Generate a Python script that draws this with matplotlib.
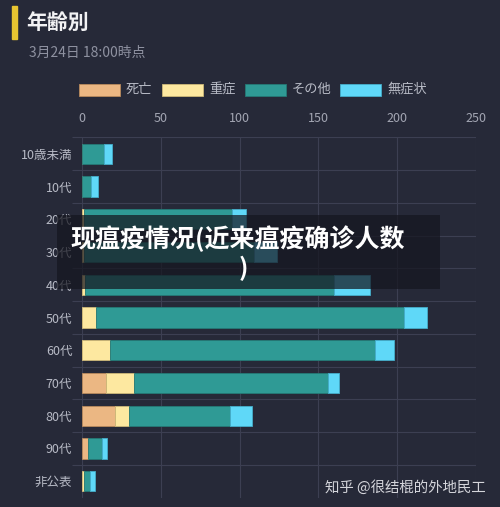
import numpy as np
import matplotlib
matplotlib.use('Agg')
import matplotlib.pyplot as plt
from matplotlib.patches import Rectangle

plt.rcParams['font.family'] = ['Noto Sans CJK JP', 'DejaVu Sans']

# 年齢別データ (3月24日 18:00時点)
categories = ['10歳未満', '10代', '20代', '30代', '40代', '50代',
              '60代', '70代', '80代', '90代', '非公表']
death = [0, 0, 0, 0, 0, 0, 0, 15, 21, 4, 0]
severe = [0, 0, 1, 1, 2, 9, 18, 18, 9, 0, 1]
other = [14, 6, 94, 108, 158, 195, 168, 123, 64, 9, 4]
asymptomatic = [5, 4, 9, 15, 23, 15, 12, 7, 14, 3, 3]
series_names = ['死亡', '重症', 'その他', '無症状']
xticks = [0, 50, 100, 150, 200, 250]

colors = ['#ebb783', '#fde8a0', '#2f9a95', '#5fd8f8']
edges = ['#b98a5c', '#cdb878', '#257a76', '#45aecb']
bg = '#262938'
grid_c = '#3c3f52'

W, H = 500, 507
fig = plt.figure(figsize=(W / 100, H / 100), dpi=100)
fig.patch.set_facecolor(bg)

def fx(px):
    return px / W

def fy(py):
    return 1 - py / H

ax = fig.add_axes([fx(82), fy(497.5), fx(476) - fx(82), fy(137.5) - fy(497.5)])
ax.set_facecolor(bg)

y = np.arange(len(categories))
left = np.zeros(len(categories))
for vals, c, ec in zip([death, severe, other, asymptomatic], colors, edges):
    vals = np.array(vals, dtype=float)
    ax.barh(y, vals, left=left, height=0.62, color=c, edgecolor=ec,
            linewidth=0.6, zorder=3)
    left += vals

ax.set_xlim(0, 250)
ax.set_ylim(len(categories) - 0.5, -0.5)
ax.xaxis.tick_top()
ax.set_xticks(xticks)
ax.set_yticks(y)
ax.set_yticklabels(categories)
ax.set_yticks(np.arange(-0.5, len(categories) - 1, 1.0), minor=True)
ax.tick_params(axis='x', length=0, pad=9, labelsize=9, labelcolor='#a3a6b3')
ax.tick_params(axis='y', which='major', length=0, pad=7, labelsize=9,
               labelcolor='#b8bbc6')
ax.tick_params(axis='y', which='minor', length=7, width=0.8, color=grid_c)
ax.grid(axis='x', color=grid_c, linewidth=0.8, zorder=0)
ax.grid(axis='y', which='minor', color=grid_c, linewidth=0.8, zorder=0)
for s in ax.spines.values():
    s.set_visible(False)

# title
fig.add_artist(Rectangle((fx(12), fy(39)), fx(4.5), fy(6) - fy(39),
                         transform=fig.transFigure, color='#e8c531'))
fig.text(fx(26), fy(22), '年齢別', fontsize=15, color='#f2f2f4',
         fontweight='bold', va='center', ha='left')
fig.text(fx(29), fy(53), '3月24日 18:00時点', fontsize=10, color='#8e91a0',
         va='center', ha='left')

# legend
leg_x = [79, 162, 245, 340]
for name, c, ec, lx in zip(series_names, colors, edges, leg_x):
    fig.add_artist(Rectangle((fx(lx), fy(96)), fx(41), fy(84) - fy(96),
                             transform=fig.transFigure, facecolor=c,
                             edgecolor=ec, linewidth=0.6))
    fig.text(fx(lx + 47), fy(89.5), name, fontsize=9.5, color='#b8bbc6',
             va='center', ha='left')

# overlay caption
fig.add_artist(Rectangle((fx(57), fy(289)), fx(440) - fx(57), fy(215) - fy(289),
                         transform=fig.transFigure, facecolor='#15161f',
                         alpha=0.72, edgecolor='none', zorder=5))
fig.text(fx(238), fy(239), '现瘟疫情况(近来瘟疫确诊人数', fontsize=18,
         color='white', fontweight='black', ha='center', va='center',
         family=['Noto Sans CJK SC', 'DejaVu Sans'], zorder=6)
fig.text(fx(243), fy(268), ')', fontsize=18, color='white',
         fontweight='black', ha='center', va='center',
         family=['Noto Sans CJK SC', 'DejaVu Sans'], zorder=6)

# watermark
fig.text(fx(486), fy(487), '知乎 @很结棍的外地民工', fontsize=10.4,
         color='#d4d5db', ha='right', va='center',
         family=['Noto Sans CJK SC', 'DejaVu Sans'])

fig.savefig('out.png', dpi=100, facecolor=bg)
